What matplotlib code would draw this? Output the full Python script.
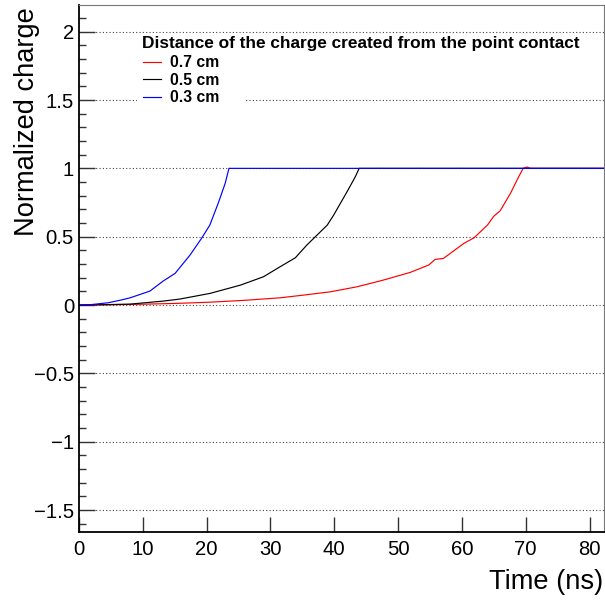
import matplotlib
matplotlib.use("Agg")
import matplotlib.pyplot as plt
from matplotlib.patches import Rectangle

# ---- data ----
t_07 = [0, 5, 9.8, 15, 20, 23.7, 26.0, 31.5, 35.2, 39.4, 43.6, 47.7, 51.9, 54.8, 55.8, 57.1,
        60.3, 61.9, 64.0, 65.0, 66.0, 67.6, 68.9, 69.6, 70.2, 70.7, 83.0]
q_07 = [0, 0.002, 0.006, 0.012, 0.02, 0.029, 0.035, 0.053, 0.073, 0.097, 0.134, 0.183, 0.239,
        0.293, 0.334, 0.341, 0.451, 0.492, 0.585, 0.65, 0.69, 0.817, 0.939, 1.0, 1.01, 1.0, 1.0]

t_05 = [0, 4, 8.0, 13.2, 15.8, 20.5, 25.3, 28.9, 31.5, 33.9, 35.7, 37.3, 38.9, 39.9, 42.0,
        43.3, 43.9, 83.0]
q_05 = [0, 0.003, 0.007, 0.029, 0.044, 0.085, 0.146, 0.207, 0.28, 0.346, 0.439, 0.512, 0.585,
        0.658, 0.829, 0.939, 1.0, 1.0]

t_03 = [0, 2, 4.6, 6.7, 8.0, 11.1, 13.2, 15.06, 17.4, 19.2, 20.5, 21.9, 22.9, 23.5, 83.0]
q_03 = [0, 0.004, 0.017, 0.038, 0.053, 0.102, 0.176, 0.232, 0.366, 0.488, 0.585, 0.756,
        0.89, 1.0, 1.0]

series_labels = ["0.7 cm", "0.5 cm", "0.3 cm"]
series_colors = ["#ff0000", "#000000", "#0000ff"]
legend_title = "Distance of the charge created from the point contact"
x_ticks = [0, 10, 20, 30, 40, 50, 60, 70, 80]
y_ticks = [-1.5, -1, -0.5, 0, 0.5, 1, 1.5, 2]
y_tick_labels = ["\u22121.5", "\u22121", "\u22120.5", "0", "0.5", "1", "1.5", "2"]

plt.rcParams['font.family'] = ['Liberation Sans', 'DejaVu Sans']

fig = plt.figure(figsize=(6.05, 6.01), dpi=100)
ax = fig.add_axes([79/605, 1 - 532/601, (603.6 - 79)/605, (532 - 5)/601])

ax.set_xlim(0, 82.2)
ax.set_ylim(-1.66, 2.195)

ax.set_axisbelow(True)
ax.grid(axis='y', which='major', linestyle=(0, (1, 2)), color='#444444', linewidth=0.8)
ax.grid(axis='x', visible=False)

ax.add_patch(Rectangle((0.1115, 0.808), 0.3164 - 0.1115, 0.9469 - 0.808,
                       transform=ax.transAxes, facecolor='white', edgecolor='none', zorder=1))

lines = []
for t, q, lab, col in zip([t_07, t_05, t_03], [q_07, q_05, q_03], series_labels, series_colors):
    ln, = ax.plot(t, q, color=col, linewidth=0.85, label=lab, zorder=2)
    lines.append(ln)

ax.set_xticks(x_ticks)
ax.set_xticklabels([str(v) for v in x_ticks])
ax.set_yticks(y_ticks)
ax.set_yticklabels(y_tick_labels)
ax.set_yticks([v / 10 for v in range(-16, 22)], minor=True)

ax.tick_params(axis='both', which='major', direction='in', labelsize=14.6, color='#333333', width=1.0)
ax.tick_params(axis='x', which='major', length=11, pad=6)
ax.tick_params(axis='y', which='major', length=11.5, pad=3.6)
ax.tick_params(axis='y', which='minor', direction='in', length=5.3, color='#333333', width=1.0)
ax.tick_params(axis='x', which='minor', length=0)
ax.tick_params(top=False, right=False)

for s in ['left', 'bottom']:
    ax.spines[s].set_color('black')
    ax.spines[s].set_linewidth(1.3)
for s in ['top', 'right']:
    ax.spines[s].set_color('#777777')
    ax.spines[s].set_linewidth(0.8)

ax.set_xlabel("Time (ns)", fontsize=19.6, loc='right', va='baseline')
ax.xaxis.set_label_coords(1.0, -(588.7 - 532) / 527)
ax.set_ylabel("Normalized charge", fontsize=19.6, loc='top', va='baseline')
ax.yaxis.set_label_coords((34.3 - 79) / 524.6, 1 - 2 / 527)

# legend header
ax.text((141.7 - 79) / 524.6, (532 - 47.7) / 527, legend_title, transform=ax.transAxes,
        ha='left', va='baseline', fontsize=12.4, fontweight='bold', zorder=5)

leg = ax.legend(handles=lines, loc='upper left',
                bbox_to_anchor=((142.7 - 79) / 524.6, (532 - 55) / 527),
                frameon=False, borderpad=0, borderaxespad=0,
                handlelength=1.15, handletextpad=0.58, labelspacing=0.17,
                prop={'weight': 'bold', 'size': 11.3})
leg.set_zorder(5)
for h in leg.legend_handles:
    h.set_linewidth(0.85)

fig.savefig("out.png", dpi=100)
